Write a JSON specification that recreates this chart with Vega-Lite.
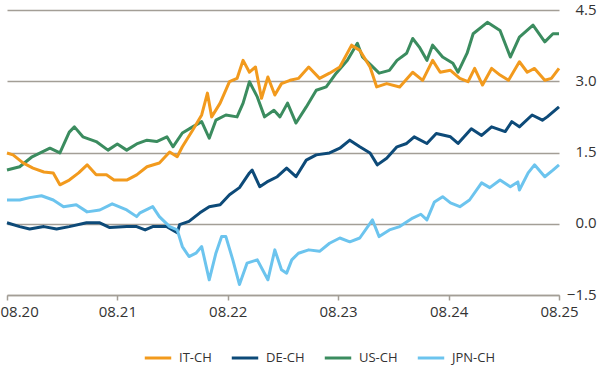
{
  "$schema": "https://vega.github.io/schema/vega-lite/v6.json",
  "width": 552,
  "height": 285,
  "autosize": "none",
  "padding": {"left": 7, "top": 10, "right": 41, "bottom": 85},
  "background": "white",
  "config": {"view": {"stroke": null}, "font": "Open Sans"},
  "data": {"values": [
    {"date":"2020-08-01","series":"US-CH","value":1.13},
    {"date":"2020-09-12","series":"US-CH","value":1.2},
    {"date":"2020-10-23","series":"US-CH","value":1.41},
    {"date":"2020-12-21","series":"US-CH","value":1.59},
    {"date":"2021-01-23","series":"US-CH","value":1.49},
    {"date":"2021-02-23","series":"US-CH","value":1.93},
    {"date":"2021-03-12","series":"US-CH","value":2.04},
    {"date":"2021-04-09","series":"US-CH","value":1.83},
    {"date":"2021-05-23","series":"US-CH","value":1.73},
    {"date":"2021-07-01","series":"US-CH","value":1.55},
    {"date":"2021-08-01","series":"US-CH","value":1.68},
    {"date":"2021-09-01","series":"US-CH","value":1.55},
    {"date":"2021-10-04","series":"US-CH","value":1.68},
    {"date":"2021-11-07","series":"US-CH","value":1.76},
    {"date":"2021-12-09","series":"US-CH","value":1.73},
    {"date":"2022-01-12","series":"US-CH","value":1.83},
    {"date":"2022-02-01","series":"US-CH","value":1.62},
    {"date":"2022-03-04","series":"US-CH","value":1.91},
    {"date":"2022-04-07","series":"US-CH","value":2.04},
    {"date":"2022-05-07","series":"US-CH","value":2.15},
    {"date":"2022-06-01","series":"US-CH","value":1.8},
    {"date":"2022-06-23","series":"US-CH","value":2.18},
    {"date":"2022-07-26","series":"US-CH","value":2.29},
    {"date":"2022-09-01","series":"US-CH","value":2.25},
    {"date":"2022-09-21","series":"US-CH","value":2.54},
    {"date":"2022-10-12","series":"US-CH","value":2.99},
    {"date":"2022-11-07","series":"US-CH","value":2.67},
    {"date":"2022-12-01","series":"US-CH","value":2.25},
    {"date":"2023-01-01","series":"US-CH","value":2.39},
    {"date":"2023-01-21","series":"US-CH","value":2.25},
    {"date":"2023-02-15","series":"US-CH","value":2.54},
    {"date":"2023-03-15","series":"US-CH","value":2.12},
    {"date":"2023-04-18","series":"US-CH","value":2.46},
    {"date":"2023-05-21","series":"US-CH","value":2.81},
    {"date":"2023-06-23","series":"US-CH","value":2.88},
    {"date":"2023-07-26","series":"US-CH","value":3.17},
    {"date":"2023-09-01","series":"US-CH","value":3.44},
    {"date":"2023-10-04","series":"US-CH","value":3.8},
    {"date":"2023-10-21","series":"US-CH","value":3.51},
    {"date":"2023-11-18","series":"US-CH","value":3.34},
    {"date":"2023-12-15","series":"US-CH","value":3.17},
    {"date":"2024-01-18","series":"US-CH","value":3.23},
    {"date":"2024-02-12","series":"US-CH","value":3.44},
    {"date":"2024-03-15","series":"US-CH","value":3.59},
    {"date":"2024-04-04","series":"US-CH","value":3.9},
    {"date":"2024-04-26","series":"US-CH","value":3.72},
    {"date":"2024-05-21","series":"US-CH","value":3.44},
    {"date":"2024-06-09","series":"US-CH","value":3.76},
    {"date":"2024-07-12","series":"US-CH","value":3.51},
    {"date":"2024-08-15","series":"US-CH","value":3.38},
    {"date":"2024-09-01","series":"US-CH","value":3.19},
    {"date":"2024-10-01","series":"US-CH","value":3.59},
    {"date":"2024-10-21","series":"US-CH","value":4.0},
    {"date":"2024-12-07","series":"US-CH","value":4.24},
    {"date":"2025-01-18","series":"US-CH","value":4.07},
    {"date":"2025-02-21","series":"US-CH","value":3.51},
    {"date":"2025-03-23","series":"US-CH","value":3.93},
    {"date":"2025-05-07","series":"US-CH","value":4.18},
    {"date":"2025-06-15","series":"US-CH","value":3.83},
    {"date":"2025-07-12","series":"US-CH","value":4.0},
    {"date":"2025-08-01","series":"US-CH","value":4.0},

    {"date":"2020-08-01","series":"IT-CH","value":1.49},
    {"date":"2020-08-21","series":"IT-CH","value":1.45},
    {"date":"2020-09-23","series":"IT-CH","value":1.28},
    {"date":"2020-10-26","series":"IT-CH","value":1.17},
    {"date":"2020-12-01","series":"IT-CH","value":1.09},
    {"date":"2021-01-01","series":"IT-CH","value":1.07},
    {"date":"2021-01-23","series":"IT-CH","value":0.82},
    {"date":"2021-02-23","series":"IT-CH","value":0.92},
    {"date":"2021-03-26","series":"IT-CH","value":1.07},
    {"date":"2021-04-23","series":"IT-CH","value":1.24},
    {"date":"2021-05-23","series":"IT-CH","value":1.03},
    {"date":"2021-06-26","series":"IT-CH","value":1.03},
    {"date":"2021-07-21","series":"IT-CH","value":0.92},
    {"date":"2021-09-01","series":"IT-CH","value":0.92},
    {"date":"2021-10-04","series":"IT-CH","value":1.03},
    {"date":"2021-11-07","series":"IT-CH","value":1.2},
    {"date":"2021-12-18","series":"IT-CH","value":1.28},
    {"date":"2022-01-21","series":"IT-CH","value":1.51},
    {"date":"2022-02-15","series":"IT-CH","value":1.41},
    {"date":"2022-03-04","series":"IT-CH","value":1.62},
    {"date":"2022-04-07","series":"IT-CH","value":1.97},
    {"date":"2022-05-07","series":"IT-CH","value":2.29},
    {"date":"2022-05-26","series":"IT-CH","value":2.75},
    {"date":"2022-06-09","series":"IT-CH","value":2.25},
    {"date":"2022-07-07","series":"IT-CH","value":2.54},
    {"date":"2022-08-07","series":"IT-CH","value":2.99},
    {"date":"2022-09-01","series":"IT-CH","value":3.06},
    {"date":"2022-09-21","series":"IT-CH","value":3.44},
    {"date":"2022-10-12","series":"IT-CH","value":3.19},
    {"date":"2022-11-01","series":"IT-CH","value":3.3},
    {"date":"2022-11-21","series":"IT-CH","value":2.64},
    {"date":"2022-12-12","series":"IT-CH","value":3.09},
    {"date":"2023-01-04","series":"IT-CH","value":2.71},
    {"date":"2023-01-26","series":"IT-CH","value":2.95},
    {"date":"2023-02-23","series":"IT-CH","value":3.02},
    {"date":"2023-03-23","series":"IT-CH","value":3.06},
    {"date":"2023-04-26","series":"IT-CH","value":3.3},
    {"date":"2023-06-01","series":"IT-CH","value":3.06},
    {"date":"2023-07-04","series":"IT-CH","value":3.17},
    {"date":"2023-08-07","series":"IT-CH","value":3.3},
    {"date":"2023-09-15","series":"IT-CH","value":3.76},
    {"date":"2023-10-12","series":"IT-CH","value":3.65},
    {"date":"2023-11-15","series":"IT-CH","value":3.3},
    {"date":"2023-12-07","series":"IT-CH","value":2.88},
    {"date":"2024-01-09","series":"IT-CH","value":2.95},
    {"date":"2024-02-21","series":"IT-CH","value":2.88},
    {"date":"2024-04-04","series":"IT-CH","value":3.19},
    {"date":"2024-05-07","series":"IT-CH","value":3.02},
    {"date":"2024-06-09","series":"IT-CH","value":3.44},
    {"date":"2024-07-04","series":"IT-CH","value":3.19},
    {"date":"2024-08-07","series":"IT-CH","value":3.23},
    {"date":"2024-09-07","series":"IT-CH","value":3.06},
    {"date":"2024-10-04","series":"IT-CH","value":2.99},
    {"date":"2024-10-26","series":"IT-CH","value":3.27},
    {"date":"2024-11-21","series":"IT-CH","value":2.92},
    {"date":"2024-12-21","series":"IT-CH","value":3.27},
    {"date":"2025-01-18","series":"IT-CH","value":3.13},
    {"date":"2025-02-15","series":"IT-CH","value":3.02},
    {"date":"2025-03-23","series":"IT-CH","value":3.41},
    {"date":"2025-04-18","series":"IT-CH","value":3.19},
    {"date":"2025-05-12","series":"IT-CH","value":3.27},
    {"date":"2025-06-15","series":"IT-CH","value":3.02},
    {"date":"2025-07-07","series":"IT-CH","value":3.06},
    {"date":"2025-08-01","series":"IT-CH","value":3.27},

    {"date":"2020-08-01","series":"DE-CH","value":0.02},
    {"date":"2020-09-12","series":"DE-CH","value":-0.06},
    {"date":"2020-10-15","series":"DE-CH","value":-0.11},
    {"date":"2020-12-01","series":"DE-CH","value":-0.06},
    {"date":"2021-01-12","series":"DE-CH","value":-0.11},
    {"date":"2021-02-23","series":"DE-CH","value":-0.06},
    {"date":"2021-04-21","series":"DE-CH","value":0.02},
    {"date":"2021-06-04","series":"DE-CH","value":0.02},
    {"date":"2021-07-07","series":"DE-CH","value":-0.08},
    {"date":"2021-09-01","series":"DE-CH","value":-0.06},
    {"date":"2021-10-04","series":"DE-CH","value":-0.06},
    {"date":"2021-11-01","series":"DE-CH","value":-0.13},
    {"date":"2021-11-26","series":"DE-CH","value":-0.06},
    {"date":"2022-01-12","series":"DE-CH","value":-0.06},
    {"date":"2022-02-15","series":"DE-CH","value":-0.19},
    {"date":"2022-02-23","series":"DE-CH","value":-0.02},
    {"date":"2022-03-26","series":"DE-CH","value":0.05},
    {"date":"2022-05-01","series":"DE-CH","value":0.23},
    {"date":"2022-06-01","series":"DE-CH","value":0.36},
    {"date":"2022-07-07","series":"DE-CH","value":0.4},
    {"date":"2022-08-07","series":"DE-CH","value":0.61},
    {"date":"2022-09-09","series":"DE-CH","value":0.76},
    {"date":"2022-10-12","series":"DE-CH","value":1.07},
    {"date":"2022-10-21","series":"DE-CH","value":1.13},
    {"date":"2022-11-15","series":"DE-CH","value":0.78},
    {"date":"2022-12-09","series":"DE-CH","value":0.88},
    {"date":"2023-01-12","series":"DE-CH","value":0.99},
    {"date":"2023-02-12","series":"DE-CH","value":1.17},
    {"date":"2023-03-15","series":"DE-CH","value":0.99},
    {"date":"2023-04-18","series":"DE-CH","value":1.34},
    {"date":"2023-05-21","series":"DE-CH","value":1.45},
    {"date":"2023-07-04","series":"DE-CH","value":1.49},
    {"date":"2023-08-07","series":"DE-CH","value":1.59},
    {"date":"2023-09-09","series":"DE-CH","value":1.76},
    {"date":"2023-10-12","series":"DE-CH","value":1.62},
    {"date":"2023-11-15","series":"DE-CH","value":1.49},
    {"date":"2023-12-09","series":"DE-CH","value":1.24},
    {"date":"2024-01-09","series":"DE-CH","value":1.38},
    {"date":"2024-02-12","series":"DE-CH","value":1.62},
    {"date":"2024-03-15","series":"DE-CH","value":1.69},
    {"date":"2024-04-09","series":"DE-CH","value":1.83},
    {"date":"2024-05-21","series":"DE-CH","value":1.69},
    {"date":"2024-06-21","series":"DE-CH","value":1.9},
    {"date":"2024-08-07","series":"DE-CH","value":1.83},
    {"date":"2024-09-01","series":"DE-CH","value":1.69},
    {"date":"2024-10-15","series":"DE-CH","value":2.0},
    {"date":"2024-11-18","series":"DE-CH","value":1.86},
    {"date":"2024-12-21","series":"DE-CH","value":2.04},
    {"date":"2025-02-04","series":"DE-CH","value":1.94},
    {"date":"2025-02-26","series":"DE-CH","value":2.15},
    {"date":"2025-03-23","series":"DE-CH","value":2.04},
    {"date":"2025-05-04","series":"DE-CH","value":2.29},
    {"date":"2025-06-07","series":"DE-CH","value":2.18},
    {"date":"2025-06-23","series":"DE-CH","value":2.25},
    {"date":"2025-08-01","series":"DE-CH","value":2.46},

    {"date":"2020-08-01","series":"JPN-CH","value":0.5},
    {"date":"2020-09-12","series":"JPN-CH","value":0.5},
    {"date":"2020-10-15","series":"JPN-CH","value":0.55},
    {"date":"2020-11-23","series":"JPN-CH","value":0.59},
    {"date":"2021-01-01","series":"JPN-CH","value":0.5},
    {"date":"2021-02-04","series":"JPN-CH","value":0.36},
    {"date":"2021-03-18","series":"JPN-CH","value":0.4},
    {"date":"2021-04-23","series":"JPN-CH","value":0.25},
    {"date":"2021-06-04","series":"JPN-CH","value":0.29},
    {"date":"2021-07-15","series":"JPN-CH","value":0.42},
    {"date":"2021-09-01","series":"JPN-CH","value":0.29},
    {"date":"2021-10-04","series":"JPN-CH","value":0.15},
    {"date":"2021-10-15","series":"JPN-CH","value":0.23},
    {"date":"2021-11-26","series":"JPN-CH","value":0.36},
    {"date":"2021-12-18","series":"JPN-CH","value":0.15},
    {"date":"2022-01-21","series":"JPN-CH","value":-0.06},
    {"date":"2022-02-15","series":"JPN-CH","value":-0.13},
    {"date":"2022-03-04","series":"JPN-CH","value":-0.48},
    {"date":"2022-03-26","series":"JPN-CH","value":-0.69},
    {"date":"2022-04-18","series":"JPN-CH","value":-0.62},
    {"date":"2022-05-07","series":"JPN-CH","value":-0.48},
    {"date":"2022-06-01","series":"JPN-CH","value":-1.18},
    {"date":"2022-06-23","series":"JPN-CH","value":-0.62},
    {"date":"2022-07-12","series":"JPN-CH","value":-0.27},
    {"date":"2022-07-26","series":"JPN-CH","value":-0.27},
    {"date":"2022-08-18","series":"JPN-CH","value":-0.76},
    {"date":"2022-09-09","series":"JPN-CH","value":-1.28},
    {"date":"2022-10-04","series":"JPN-CH","value":-0.83},
    {"date":"2022-11-07","series":"JPN-CH","value":-0.76},
    {"date":"2022-12-12","series":"JPN-CH","value":-1.18},
    {"date":"2023-01-04","series":"JPN-CH","value":-0.55},
    {"date":"2023-01-26","series":"JPN-CH","value":-0.97},
    {"date":"2023-02-12","series":"JPN-CH","value":-1.04},
    {"date":"2023-03-01","series":"JPN-CH","value":-0.76},
    {"date":"2023-03-23","series":"JPN-CH","value":-0.62},
    {"date":"2023-04-26","series":"JPN-CH","value":-0.55},
    {"date":"2023-06-01","series":"JPN-CH","value":-0.58},
    {"date":"2023-07-04","series":"JPN-CH","value":-0.41},
    {"date":"2023-08-07","series":"JPN-CH","value":-0.3},
    {"date":"2023-09-09","series":"JPN-CH","value":-0.38},
    {"date":"2023-10-12","series":"JPN-CH","value":-0.3},
    {"date":"2023-11-23","series":"JPN-CH","value":0.08},
    {"date":"2023-12-15","series":"JPN-CH","value":-0.27},
    {"date":"2024-01-18","series":"JPN-CH","value":-0.13},
    {"date":"2024-02-21","series":"JPN-CH","value":-0.06},
    {"date":"2024-04-04","series":"JPN-CH","value":0.12},
    {"date":"2024-05-01","series":"JPN-CH","value":0.2},
    {"date":"2024-05-21","series":"JPN-CH","value":0.08},
    {"date":"2024-06-15","series":"JPN-CH","value":0.46},
    {"date":"2024-07-12","series":"JPN-CH","value":0.57},
    {"date":"2024-08-07","series":"JPN-CH","value":0.44},
    {"date":"2024-09-07","series":"JPN-CH","value":0.36},
    {"date":"2024-10-09","series":"JPN-CH","value":0.5},
    {"date":"2024-11-18","series":"JPN-CH","value":0.86},
    {"date":"2024-12-15","series":"JPN-CH","value":0.76},
    {"date":"2025-01-18","series":"JPN-CH","value":0.92},
    {"date":"2025-02-21","series":"JPN-CH","value":0.78},
    {"date":"2025-03-18","series":"JPN-CH","value":0.88},
    {"date":"2025-03-23","series":"JPN-CH","value":0.71},
    {"date":"2025-04-21","series":"JPN-CH","value":1.07},
    {"date":"2025-05-12","series":"JPN-CH","value":1.24},
    {"date":"2025-06-15","series":"JPN-CH","value":0.99},
    {"date":"2025-07-12","series":"JPN-CH","value":1.13},
    {"date":"2025-08-01","series":"JPN-CH","value":1.24}
  ]},
  "mark": {"type": "line", "strokeWidth": 3, "strokeJoin": "round"},
  "encoding": {
    "x": {
      "field": "date", "type": "temporal",
      "scale": {"type": "utc", "domain": [{"year": 2020, "month": 8, "date": 1, "utc": true}, {"year": 2025, "month": 8, "date": 1, "utc": true}]},
      "axis": {
        "title": null,
        "values": [
          {"year": 2020, "month": 8, "date": 1, "utc": true},
          {"year": 2021, "month": 8, "date": 1, "utc": true},
          {"year": 2022, "month": 8, "date": 1, "utc": true},
          {"year": 2023, "month": 8, "date": 1, "utc": true},
          {"year": 2024, "month": 8, "date": 1, "utc": true},
          {"year": 2025, "month": 8, "date": 1, "utc": true}
        ],
        "labelExpr": "utcFormat(datum.value, '%m.%y')",
        "grid": false,
        "domain": true, "domainColor": "#a39e96", "domainWidth": 1.5,
        "ticks": true, "tickColor": "#a39e96", "tickSize": 5, "tickWidth": 1.5,
        "labelFont": "Open Sans", "labelFontSize": 15, "labelColor": "#333333",
        "labelAlign": {"condition": {"test": "datum.index == 0", "value": "left"}, "value": "center"},
        "labelOffset": {"condition": {"test": "datum.index == 0", "value": -7}, "value": 0},
        "labelPadding": 4, "labelFlush": false, "labelOverlap": false
      }
    },
    "y": {
      "field": "value", "type": "quantitative",
      "scale": {"domain": [-1.5, 4.5], "nice": false, "zero": false},
      "axis": {
        "title": null, "orient": "right",
        "values": [-1.5, 0, 1.5, 3, 4.5],
        "format": ".1f",
        "domain": false, "ticks": false,
        "grid": true, "gridColor": "#a39e96", "gridWidth": 1.5,
        "labelFont": "Open Sans", "labelFontSize": 15, "labelColor": "#333333",
        "labelAlign": "right", "labelOffset": -1,
        "labelPadding": 37
      }
    },
    "color": {
      "field": "series", "type": "nominal",
      "scale": {"domain": ["IT-CH", "DE-CH", "US-CH", "JPN-CH"], "range": ["#f29a1d", "#0d4a78", "#3b8c5f", "#6cc4ee"]},
      "legend": {
        "orient": "none", "legendX": 136, "legendY": 333,
        "direction": "horizontal", "title": null,
        "symbolType": "stroke", "symbolStrokeWidth": 3, "symbolSize": 700,
        "labelFont": "Open Sans", "labelFontSize": 13, "labelColor": "#333333",
        "columnPadding": 13, "labelOffset": 6
      }
    }
  }
}
